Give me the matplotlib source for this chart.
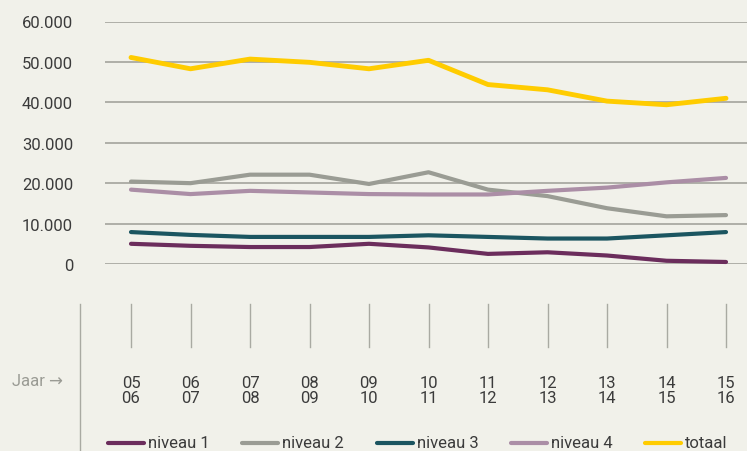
import matplotlib.pyplot as plt
from matplotlib.transforms import blended_transform_factory
from matplotlib.lines import Line2D

years = ["05\n06", "06\n07", "07\n08", "08\n09", "09\n10", "10\n11",
         "11\n12", "12\n13", "13\n14", "14\n15", "15\n16"]
niveau1 = [5000, 4500, 4200, 4200, 5000, 4100, 2500, 2900, 2100, 800, 500]
niveau2 = [20400, 20000, 22100, 22100, 19800, 22700, 18400, 16800, 13800, 11800, 12100]
niveau3 = [7900, 7200, 6700, 6700, 6700, 7100, 6700, 6300, 6300, 7100, 7900]
niveau4 = [18400, 17300, 18100, 17700, 17300, 17200, 17200, 18100, 18900, 20200, 21300]
totaal = [51100, 48300, 50700, 49900, 48300, 50400, 44400, 43100, 40300, 39400, 41000]
yticks = [0, 10000, 20000, 30000, 40000, 50000, 60000]

bg = "#f1f1ea"
grid = "#a9aaa2"
text = "#3b3b3b"
series = [
    ("niveau 1", niveau1, "#6b2d5c", 3.0),
    ("niveau 2", niveau2, "#9a9c94", 3.0),
    ("niveau 3", niveau3, "#1b5560", 3.0),
    ("niveau 4", niveau4, "#ab8ea6", 3.0),
    ("totaal", totaal, "#ffcc00", 3.5),
]

plt.rcParams['font.family'] = ['Roboto', 'DejaVu Sans']
fs = 12

W, H = 747, 452
fig = plt.figure(figsize=(W / 100, H / 100), dpi=100, facecolor=bg)
# axes spans pixel x 105..747, y 22.5..265
ax = fig.add_axes([105 / W, 1 - 265 / H, (W - 105) / W, (265 - 22.5) / H])
ax.set_facecolor(bg)

x = list(range(len(years)))
for name, vals, col, lw in series:
    ax.plot(x, vals, color=col, lw=lw, solid_capstyle="round",
            solid_joinstyle="round", clip_on=False, zorder=3)

# x spacing: 59.5 px per step, index 0 at pixel 131
step = 59.5
ax.set_xlim(-(131 - 105) / step, (747 - 131) / step)
ax.set_ylim(0, 60000)
ax.set_yticks(yticks)
ax.set_yticklabels([f"{v:,}".replace(",", ".") for v in yticks])
ax.yaxis.grid(True, color=grid, lw=1.3)
ax.tick_params(axis="y", length=0, pad=23, labelsize=fs, labelcolor=text)
ax.set_xticks([])
for s in ax.spines.values():
    s.set_visible(False)

# bottom axis decorations
tr = blended_transform_factory(ax.transData, fig.transFigure)
for i, lab in enumerate(years):
    ax.add_line(Line2D([i, i], [1 - 305 / H, 1 - 348 / H], transform=tr,
                       color=grid, lw=1, clip_on=False))
    ax.text(i, 1 - 391 / H, lab, transform=tr, ha="center", va="center",
            fontsize=fs, color=text, linespacing=0.95, clip_on=False)

fig.add_artist(Line2D([80 / W, 80 / W], [1 - 305 / H, 0], color=grid, lw=1))
fig.text(12 / W, 1 - 381 / H, "Jaar \u2192", color="#9a9b94", fontsize=fs,
         ha="left", va="center")

# legend, laid out by hand
ly = 1 - 444 / H
for k, (name, _, col, _) in enumerate(series):
    x0 = 108 + 134.3 * k
    fig.add_artist(Line2D([x0 / W, (x0 + 36) / W], [ly, ly], color=col,
                          lw=3, solid_capstyle="round"))
    fig.text((x0 + 40) / W, ly, name, color=text, fontsize=fs,
             ha="left", va="center")

fig.savefig("out.png", dpi=100, facecolor=bg)
